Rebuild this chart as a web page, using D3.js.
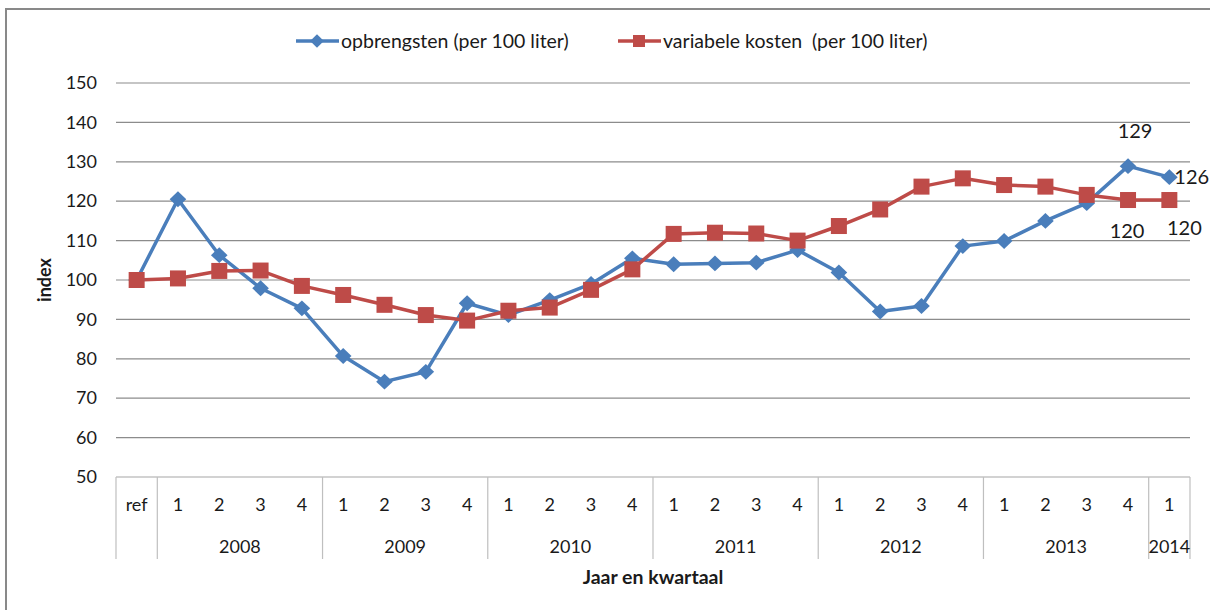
<!DOCTYPE html>
<html>
<head>
    <meta charset="utf-8">
    <script type="text/javascript" src="https://cdn.jsdelivr.net/npm/d3@7"></script>
    <title>Opbrengsten en variabele kosten</title>
    <style>
        body { margin: 0; background: #fff; }
        text { font-family: Lato, "Open Sans", sans-serif; fill: #1a1a1a; white-space: pre; }
    </style>
</head>
<body>
    <div id="chart"></div>
    <script type="text/javascript">
        // categorieen: ref + kwartalen 2008 t/m 2014-1
        var years = ['2008', '2009', '2010', '2011', '2012', '2013', '2014'],
            quartersPerYear = [4, 4, 4, 4, 4, 4, 1],
            categories = ['ref'],
            quarterLabels = ['ref'];

        years.forEach(function (y, i) {
            for (var q = 1; q <= quartersPerYear[i]; q++) {
                categories.push(y + '-' + q);
                quarterLabels.push(String(q));
            }
        });

        var opbrengsten = [100, 120.5, 106.3, 97.9, 92.8, 80.7, 74.2, 76.7, 94.1,
                           91.1, 94.9, 99.0, 105.5, 104.0, 104.2, 104.4, 107.6,
                           101.9, 92.0, 93.4, 108.6, 109.9, 115.0, 119.5, 128.9, 126.1];
        var kosten = [100, 100.4, 102.3, 102.4, 98.5, 96.2, 93.7, 91.1, 89.7,
                      92.2, 93.0, 97.5, 102.7, 111.7, 112.0, 111.8, 110.0,
                      113.7, 117.9, 123.7, 125.8, 124.1, 123.7, 121.6, 120.3, 120.3];
        var yTicks = [50, 60, 70, 80, 90, 100, 110, 120, 130, 140, 150];
        var seriesNames = ['opbrengsten (per 100 liter)', 'variabele kosten  (per 100 liter)'];

        var width = 1210, height = 610,
            plotLeft = 116, plotRight = 1190, plotTop = 83, plotBottom = 477;

        var svg = d3.select('#chart').append('svg')
            .attr('width', width)
            .attr('height', height);

        // rand
        svg.append('path')
            .attr('d', 'M6,' + height + 'V9H' + width)
            .attr('fill', 'none')
            .attr('stroke', '#898989')
            .attr('stroke-width', 2);

        var x = d3.scaleBand().domain(categories).range([plotLeft, plotRight]);
        var y = d3.scaleLinear().domain([50, 150]).range([plotBottom, plotTop]);

        // rasterlijnen
        svg.selectAll('.grid').data(yTicks.slice(1)).enter().append('line')
            .attr('x1', plotLeft).attr('x2', plotRight)
            .attr('y1', function (d) { return y(d); })
            .attr('y2', function (d) { return y(d); })
            .attr('stroke', '#8c8c8c')
            .attr('stroke-width', 1.2);

        var yAxis = svg.append('g')
            .attr('transform', 'translate(' + plotLeft + ',0)')
            .call(d3.axisLeft(y).tickValues(yTicks).tickSize(0).tickPadding(19));
        yAxis.select('.domain').remove();
        yAxis.selectAll('text')
            .style('font-size', '18px')
            .style('font-family', 'Lato, sans-serif')
            .attr('fill', '#1a1a1a');

        svg.append('text')
            .attr('transform', 'translate(51,280) rotate(-90)')
            .attr('text-anchor', 'middle')
            .style('font-size', '18px')
            .style('font-weight', 'bold')
            .text('index');

        // categorie-as (tabel)
        var tableBottom = 559;
        svg.append('line')
            .attr('x1', plotLeft).attr('x2', plotRight)
            .attr('y1', plotBottom).attr('y2', plotBottom)
            .attr('stroke', '#a6a6a6').attr('stroke-width', 1.2);

        var separators = [0, 1], idx = 1;
        quartersPerYear.forEach(function (n) { idx += n; separators.push(idx); });
        svg.selectAll('.sep').data(separators).enter().append('line')
            .attr('x1', function (d) { return plotLeft + d * x.bandwidth(); })
            .attr('x2', function (d) { return plotLeft + d * x.bandwidth(); })
            .attr('y1', plotBottom).attr('y2', tableBottom)
            .attr('stroke', '#bfbfbf').attr('stroke-width', 1.2);

        svg.selectAll('.qlab').data(categories).enter().append('text')
            .attr('x', function (d) { return x(d) + x.bandwidth() / 2; })
            .attr('y', 511)
            .attr('text-anchor', 'middle')
            .style('font-size', '18px')
            .text(function (d, i) { return quarterLabels[i]; });

        var start = 1;
        years.forEach(function (yr, i) {
            var x0 = plotLeft + start * x.bandwidth(),
                x1 = plotLeft + (start + quartersPerYear[i]) * x.bandwidth();
            svg.append('text')
                .attr('x', (x0 + x1) / 2)
                .attr('y', 553)
                .attr('text-anchor', 'middle')
                .style('font-size', '18px')
                .text(yr);
            start += quartersPerYear[i];
        });

        svg.append('text')
            .attr('x', 653).attr('y', 584)
            .attr('text-anchor', 'middle')
            .style('font-size', '19.5px')
            .style('font-weight', 'bold')
            .text('Jaar en kwartaal');

        // lijnen
        var cx = function (d, i) { return x(categories[i]) + x.bandwidth() / 2; };
        var line = d3.line().x(cx).y(function (d) { return y(d); });

        svg.append('path').datum(opbrengsten)
            .attr('d', line).attr('fill', 'none')
            .attr('stroke', '#4a7ebb').attr('stroke-width', 3.5)
            .attr('stroke-linejoin', 'round');
        svg.append('path').datum(kosten)
            .attr('d', line).attr('fill', 'none')
            .attr('stroke', '#be4b48').attr('stroke-width', 3.5)
            .attr('stroke-linejoin', 'round');

        var diamond = d3.symbol().type(d3.symbolDiamond2).size(160);
        svg.selectAll('.dm').data(opbrengsten).enter().append('path')
            .attr('d', diamond)
            .attr('transform', function (d, i) { return 'translate(' + cx(d, i) + ',' + y(d) + ') scale(1.05,1)'; })
            .attr('fill', '#4a7ebb');

        svg.selectAll('.sq').data(kosten).enter().append('rect')
            .attr('x', function (d, i) { return cx(d, i) - 8; })
            .attr('y', function (d) { return y(d) - 8; })
            .attr('width', 16).attr('height', 16)
            .attr('fill', '#be4b48');

        // datalabels
        var n = categories.length;
        var labels = [
            { v: opbrengsten[n - 2], i: n - 2, dx: 7, dy: -28, a: 'middle', t: Math.round(opbrengsten[n - 2]) },
            { v: opbrengsten[n - 1], i: n - 1, dx: 5, dy: 7, a: 'start', t: Math.round(opbrengsten[n - 1]) },
            { v: kosten[n - 2], i: n - 2, dx: -1, dy: 38, a: 'middle', t: Math.round(kosten[n - 2]) },
            { v: kosten[n - 1], i: n - 1, dx: 15, dy: 35, a: 'middle', t: Math.round(kosten[n - 1]) }
        ];
        svg.selectAll('.dl').data(labels).enter().append('text')
            .attr('x', function (d) { return cx(d.v, d.i) + d.dx; })
            .attr('y', function (d) { return y(d.v) + d.dy; })
            .attr('text-anchor', function (d) { return d.a; })
            .style('font-size', '20px')
            .text(function (d) { return d.t; });

        // legenda
        var legend = svg.append('g');
        var items = [
            { name: seriesNames[0], color: '#4a7ebb', x: 296, shape: 'diamond' },
            { name: seriesNames[1], color: '#be4b48', x: 618, shape: 'square' }
        ];
        items.forEach(function (it) {
            legend.append('line')
                .attr('x1', it.x).attr('x2', it.x + 43)
                .attr('y1', 41).attr('y2', 41)
                .attr('stroke', it.color).attr('stroke-width', 3.5);
            if (it.shape === 'diamond') {
                legend.append('path')
                    .attr('d', d3.symbol().type(d3.symbolDiamond2).size(120))
                    .attr('transform', 'translate(' + (it.x + 21) + ',41)')
                    .attr('fill', it.color);
            } else {
                legend.append('rect')
                    .attr('x', it.x + 15).attr('y', 35)
                    .attr('width', 12).attr('height', 12)
                    .attr('fill', it.color);
            }
            legend.append('text')
                .attr('x', it.x + 45).attr('y', 48)
                .style('font-size', '19.5px')
                .text(it.name);
        });
    </script>
</body>
</html>
